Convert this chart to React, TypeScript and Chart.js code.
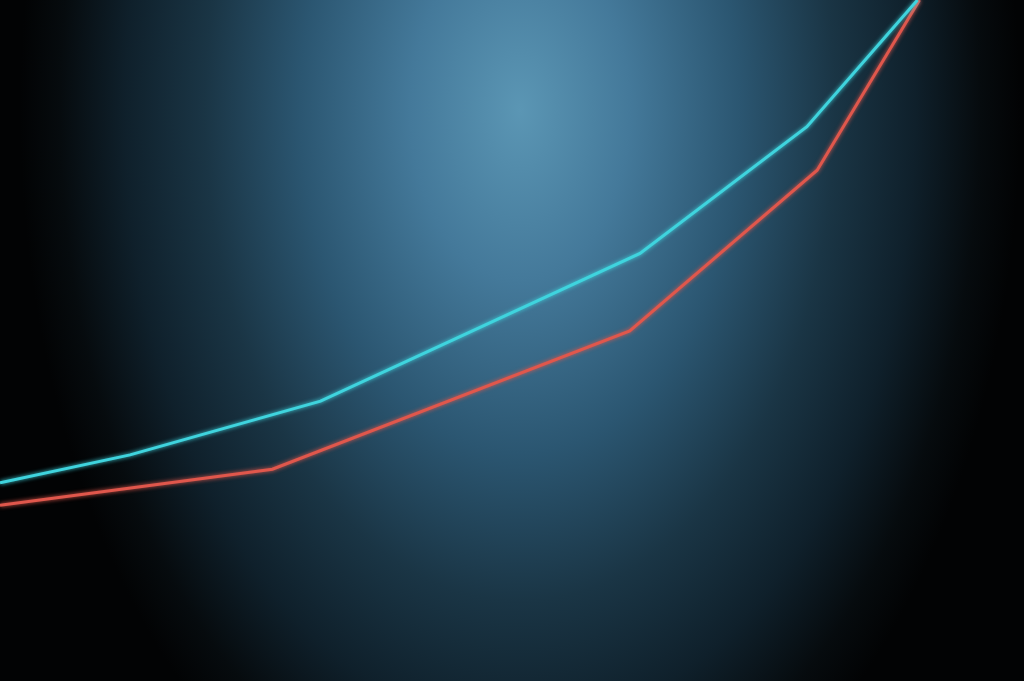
import React, { useEffect, useRef } from 'react';
import Chart from 'chart.js/auto';

// x and y are both on a 0-100 scale
const cyanX = [0, 12.7, 31.3, 62.5, 78.8, 89.6];
const cyanY = [29.1, 33.2, 41.1, 62.8, 81.4, 100];
const redX = [0, 26.6, 61.5, 79.8, 89.8];
const redY = [25.8, 31.1, 51.4, 75.0, 100];

const toPoints = (xs: number[], ys: number[]) => xs.map((x, i) => ({ x, y: ys[i] }));

const glow = {
  id: 'glow',
  beforeDatasetDraw(chart: any, args: any) {
    const ctx = chart.ctx;
    ctx.save();
    ctx.shadowColor = args.meta.dataset.options.borderColor;
    ctx.shadowBlur = 4;
  },
  afterDatasetDraw(chart: any) {
    chart.ctx.restore();
  }
};

const App: React.FC = () => {
  const canvasRef = useRef<HTMLCanvasElement>(null);

  useEffect(() => {
    document.body.style.margin = '0';
    if (!canvasRef.current) return;
    const chart = new Chart(canvasRef.current, {
      type: 'line',
      data: {
        datasets: [
          {
            label: 'Cyan',
            data: toPoints(cyanX, cyanY),
            borderColor: '#3fd4de',
            borderWidth: 3,
            pointRadius: 0,
            tension: 0
          },
          {
            label: 'Red',
            data: toPoints(redX, redY),
            borderColor: '#e0574c',
            borderWidth: 3,
            pointRadius: 0,
            tension: 0
          }
        ]
      },
      options: {
        animation: false,
        responsive: true,
        maintainAspectRatio: false,
        layout: { padding: 0 },
        plugins: {
          legend: { display: false },
          tooltip: { enabled: false }
        },
        scales: {
          x: { type: 'linear', min: 0, max: 100, display: false },
          y: { type: 'linear', min: 0, max: 100, display: false }
        }
      },
      plugins: [glow]
    });
    return () => chart.destroy();
  }, []);

  return (
    <div
      style={{
        position: 'fixed',
        inset: 0,
        width: 1024,
        height: 681,
        background:
          'radial-gradient(ellipse 500px 780px at 520px 110px, #5b96b4 0%, #44799a 22%, #2b5671 44%, #1a3545 63%, #0f202b 79%, #060b0e 92%, #020304 100%)'
      }}
    >
      <canvas ref={canvasRef}></canvas>
    </div>
  );
};

export default App;
